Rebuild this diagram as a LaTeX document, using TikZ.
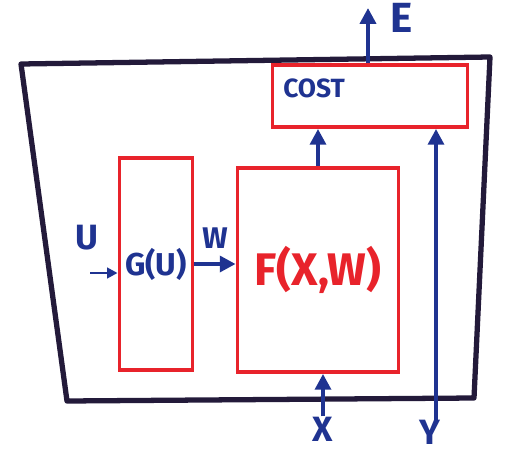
\documentclass[tikz,border=0pt]{standalone}
\usepackage{fontspec}
\setmainfont{Fira Sans}
\usetikzlibrary{arrows.meta,positioning}
\definecolor{ink}{HTML}{231A3A}
\definecolor{pen}{HTML}{E8232B}
\definecolor{wire}{HTML}{1F3391}

\begin{document}
\begin{tikzpicture}[x=0.02cm, y=-0.02cm,
  module/.style={draw=pen, line width=2.2pt, inner sep=0pt},
  flow/.style={wire, line width=2.2pt, -{Triangle[length=9pt,width=9pt]}},
  lbl/.style={text=wire, inner sep=0pt}]
  \useasboundingbox (0,0) rectangle (507,453);
  \draw[ink, line width=3pt, line join=round] (21,64) -- (490,57) -- (474,398) -- (67,401) -- cycle;

  \node[module, minimum width=1.46cm, minimum height=4.24cm, text=wire,
        font=\fontsize{18}{18}\selectfont\bfseries] (G) at (156,264) {G(U)};
  \node[module, minimum width=3.22cm, minimum height=4.08cm, text=pen,
        font=\fontsize{26}{26}\selectfont\bfseries] (F) at (318,270) {F(X,W)};
  \node[module, minimum width=3.9cm, minimum height=1.24cm] (cost) at (370,96) {};

  \node[lbl, anchor=west, font=\fontsize{15}{15}\selectfont\bfseries] (costlab) at (283,88) {COST};
  \node[lbl, font=\fontsize{24}{24}\selectfont\bfseries] (elab) at (402,18) {E};
  \node[lbl, font=\fontsize{20}{20}\selectfont\bfseries] (ulab) at (87,238) {U};
  \node[lbl, font=\fontsize{17}{17}\selectfont\bfseries] (wlab) at (215,238) {W};
  \node[lbl, font=\fontsize{20}{20}\selectfont\bfseries] (xlab) at (323,429) {X};
  \node[lbl, font=\fontsize{20}{20}\selectfont\bfseries] (ylab) at (430,432) {Y};

  \coordinate (etip) at (368,8);
  \coordinate (uin) at (90,273);
  \coordinate (yin) at (436,421);

  \draw[flow] (cost.north -| etip) -- (etip);
  \draw[flow] (F.north) -- (F.north |- cost.south);
  \draw[flow] (xlab.north) -- (xlab.north |- F.south);
  \draw[flow] (yin) -- (yin |- cost.south);
  \draw[flow, line width=1.6pt, -{Triangle[length=6pt,width=6pt]}] (uin) -- (uin -| G.west);
  \draw[flow] (G.east) -- (G.east -| F.west);
\end{tikzpicture}
\end{document}
